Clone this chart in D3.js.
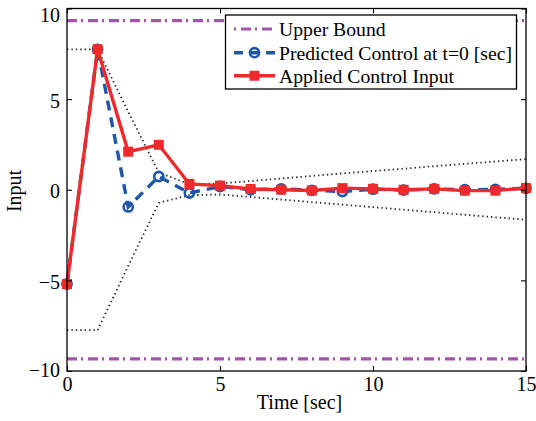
<!DOCTYPE html>
<html>
<head>
<meta charset="utf-8">
<script src="https://cdn.jsdelivr.net/npm/d3@7"></script>
<style>
  html, body { margin: 0; padding: 0; background: #fff; }
  svg { display: block; }
  svg text { font-family: "Liberation Serif", "Times New Roman", Times, serif; fill: #000; }
</style>
</head>
<body>
<svg id="chart" width="536" height="421"></svg>
<script>
// Time steps [sec]
const time = [0, 1, 2, 3, 4, 5, 6, 7, 8, 9, 10, 11, 12, 13, 14, 15];

// Control applied to the plant at each step
const appliedInput = [-5.2, 7.75, 2.1, 2.48, 0.32, 0.23, 0.04, 0.0, -0.04, 0.09, 0.05, 0.0, 0.05, -0.05, -0.05, 0.1];

// Control sequence predicted at t = 0
const predictedInput = [-5.2, 7.75, -0.95, 0.73, -0.18, 0.18, 0.0, 0.05, -0.03, -0.1, 0.03, -0.02, 0.05, 0.0, 0.02, 0.08];

// Envelope around the predicted sequence (dotted)
const envelopeUpper = [7.75, 7.75, 4.3, 0.95, 0.3, 0.35, 0.48, 0.62, 0.76, 0.9, 1.03, 1.16, 1.3, 1.43, 1.56, 1.69];
const envelopeLower = [-7.75, -7.75, -4.2, -0.72, -0.3, -0.26, -0.4, -0.54, -0.68, -0.82, -0.96, -1.1, -1.24, -1.38, -1.52, -1.65];

// Input constraints
const upperBound = 9.33;
const lowerBound = -9.33;

const xTicks = [0, 5, 10, 15];
const yTicks = [-10, -5, 0, 5, 10];

const legendLabels = ["Upper Bound", "Predicted Control at t=0 [sec]", "Applied Control Input"];

const colors = { bound: "#a653ad", predicted: "#1f56aa", applied: "#ee2a2a", envelope: "#2a2a2a" };
const serif = '"Liberation Serif", "Times New Roman", Times, serif';

const svg = d3.select("#chart");
const plot = { left: 67, right: 526, top: 8.5, bottom: 371 };

const x = d3.scaleLinear().domain([0, 15]).range([plot.left, plot.right]);
const y = d3.scaleLinear().domain([-10, 10]).range([plot.bottom, plot.top]);

const line = d3.line().x((d, i) => x(time[i])).y(d => y(d));

// Dotted envelope
[envelopeUpper, envelopeLower].forEach(series => {
  svg.append("path")
    .attr("d", line(series))
    .attr("fill", "none")
    .attr("stroke", colors.envelope)
    .attr("stroke-width", 1.8)
    .attr("stroke-dasharray", "1.4,3");
});

// Bounds
[upperBound, lowerBound].forEach(b => {
  svg.append("line")
    .attr("x1", x(0)).attr("x2", x(15))
    .attr("y1", y(b)).attr("y2", y(b))
    .attr("stroke", colors.bound)
    .attr("stroke-width", 3.2)
    .attr("stroke-dasharray", "10,4,2,5");
});

// Predicted control (dashed, open circles)
svg.append("path")
  .attr("d", line(predictedInput))
  .attr("fill", "none")
  .attr("stroke", colors.predicted)
  .attr("stroke-width", 3.4)
  .attr("stroke-dasharray", "10,7");
svg.selectAll("circle.pred")
  .data(predictedInput)
  .join("circle")
  .attr("class", "pred")
  .attr("cx", (d, i) => x(time[i]))
  .attr("cy", d => y(d))
  .attr("r", 4.6)
  .attr("fill", "none")
  .attr("stroke", colors.predicted)
  .attr("stroke-width", 2.6);

// Applied control (solid, filled squares)
svg.append("path")
  .attr("d", line(appliedInput))
  .attr("fill", "none")
  .attr("stroke", colors.applied)
  .attr("stroke-width", 3.4);
svg.selectAll("rect.appl")
  .data(appliedInput)
  .join("rect")
  .attr("class", "appl")
  .attr("x", (d, i) => x(time[i]) - 5)
  .attr("y", d => y(d) - 5)
  .attr("width", 10)
  .attr("height", 10)
  .attr("fill", colors.applied);

// Axes with inward ticks on all four sides
const fontSize = 20;
const gx = svg.append("g")
  .attr("transform", `translate(0,${plot.bottom})`)
  .call(d3.axisBottom(x).tickValues(xTicks).tickSizeInner(-5).tickSizeOuter(0).tickPadding(6));
const gy = svg.append("g")
  .attr("transform", `translate(${plot.left},0)`)
  .call(d3.axisLeft(y).tickValues(yTicks).tickSizeInner(-5).tickSizeOuter(0).tickPadding(7));
svg.append("g")
  .attr("transform", `translate(0,${plot.top})`)
  .call(d3.axisTop(x).tickValues(xTicks).tickSizeInner(-5).tickSizeOuter(0).tickFormat(""));
svg.append("g")
  .attr("transform", `translate(${plot.right},0)`)
  .call(d3.axisRight(y).tickValues(yTicks).tickSizeInner(-5).tickSizeOuter(0).tickFormat(""));

svg.selectAll(".domain").remove();
svg.selectAll("g").attr("font-family", serif);
svg.selectAll(".tick line").attr("stroke", "#000").attr("stroke-width", 1.1);
[gx, gy].forEach(g => g.selectAll("text")
  .attr("font-family", serif)
  .attr("font-size", fontSize)
  .attr("fill", "#000"));
gy.selectAll(".tick text").attr("dy", d => d === 10 ? "0.66em" : (d === -10 ? "0.25em" : "0.4em"));

// Axes box
svg.append("rect")
  .attr("x", plot.left).attr("y", plot.top)
  .attr("width", plot.right - plot.left).attr("height", plot.bottom - plot.top)
  .attr("fill", "none").attr("stroke", "#000").attr("stroke-width", 1.3);

// Axis labels
svg.append("text")
  .attr("x", (plot.left + plot.right) / 2 + 3)
  .attr("y", 409)
  .attr("text-anchor", "middle")
  .attr("font-family", serif)
  .attr("font-size", fontSize)
  .text("Time [sec]");
svg.append("text")
  .attr("transform", `translate(21,191) rotate(-90)`)
  .attr("text-anchor", "middle")
  .attr("font-family", serif)
  .attr("font-size", fontSize)
  .text("Input");

// Legend
const legend = svg.append("g");
legend.append("rect")
  .attr("x", 225.5).attr("y", 15)
  .attr("width", 291).attr("height", 74)
  .attr("fill", "#fff").attr("stroke", "#000").attr("stroke-width", 1.3);
const rowY = [29, 52.7, 75.7];
const sx1 = 234, sx2 = 275, sxm = (sx1 + sx2) / 2;

legend.append("line")
  .attr("x1", sx1).attr("x2", sx2).attr("y1", rowY[0]).attr("y2", rowY[0])
  .attr("stroke", colors.bound).attr("stroke-width", 3.2)
  .attr("stroke-dasharray", "2,5,10,4");

legend.append("line")
  .attr("x1", sx1).attr("x2", sx2).attr("y1", rowY[1]).attr("y2", rowY[1])
  .attr("stroke", colors.predicted).attr("stroke-width", 3.4)
  .attr("stroke-dasharray", "9,7");
legend.append("circle")
  .attr("cx", sxm).attr("cy", rowY[1]).attr("r", 4.6)
  .attr("fill", "none").attr("stroke", colors.predicted).attr("stroke-width", 2.6);

legend.append("line")
  .attr("x1", sx1).attr("x2", sx2).attr("y1", rowY[2]).attr("y2", rowY[2])
  .attr("stroke", colors.applied).attr("stroke-width", 3.4);
legend.append("rect")
  .attr("x", sxm - 5).attr("y", rowY[2] - 5).attr("width", 10).attr("height", 10)
  .attr("fill", colors.applied);

legend.selectAll("text.lbl")
  .data(legendLabels)
  .join("text")
  .attr("class", "lbl")
  .attr("x", 279)
  .attr("y", (d, i) => rowY[i] + 7)
  .attr("font-family", serif)
  .attr("font-size", 19.7)
  .text(d => d);
</script>
</body>
</html>
